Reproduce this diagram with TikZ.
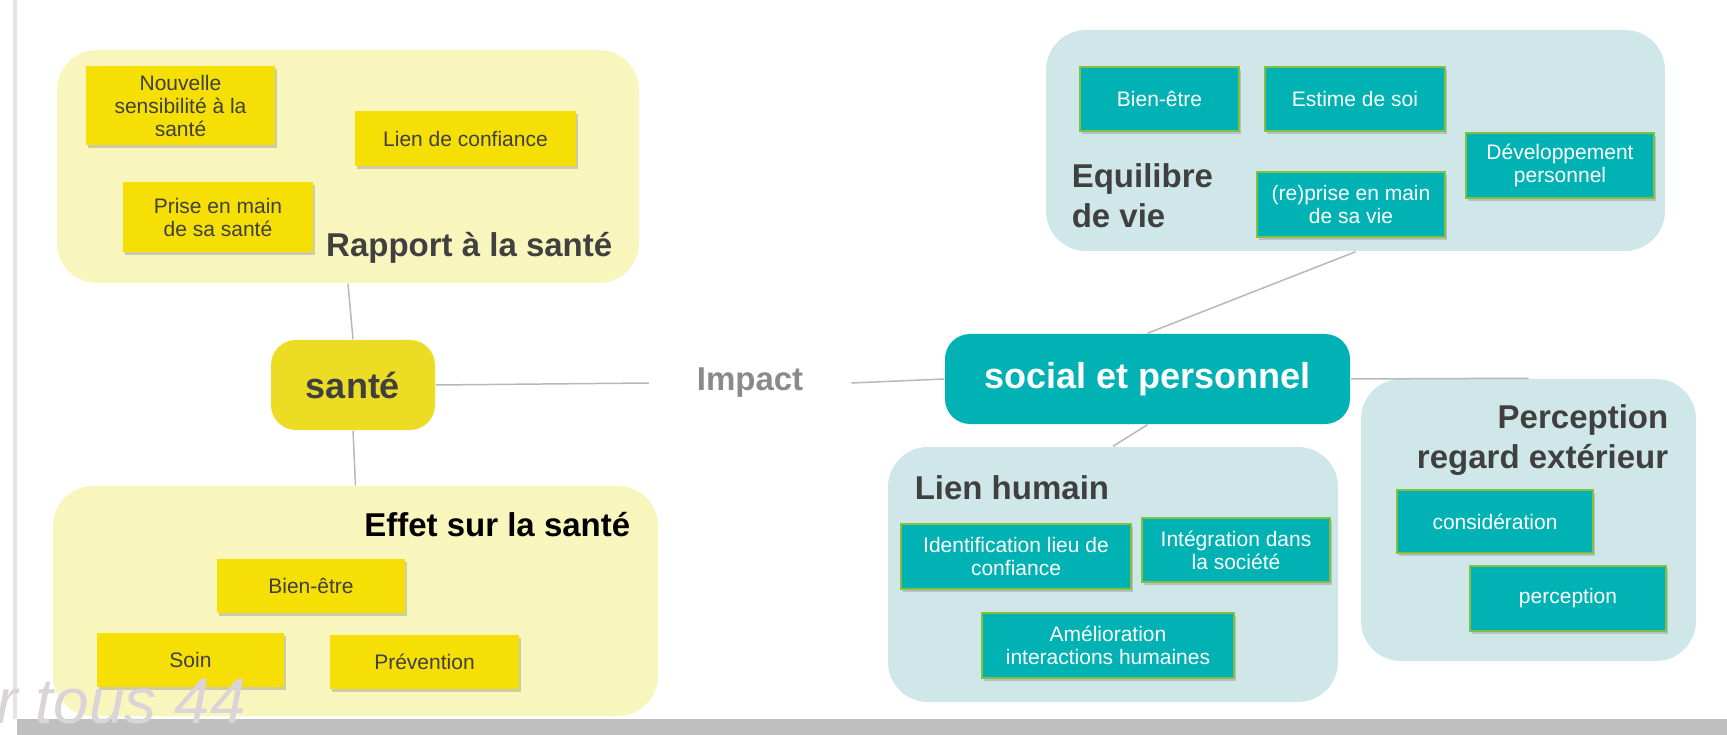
\documentclass[tikz,border=0pt]{standalone}
\usepackage{fontspec}
\setmainfont{Liberation Sans}
\usetikzlibrary{shadows}
\definecolor{panelyellow}{HTML}{F9F6BD}
\definecolor{boxyellow}{HTML}{F5DF05}
\definecolor{centeryellow}{HTML}{ECDC23}
\definecolor{panelteal}{HTML}{CFE7E8}
\definecolor{boxteal}{HTML}{00B2B3}
\definecolor{boxedge}{HTML}{86BE3F}
\definecolor{textgrey}{HTML}{404040}
\definecolor{impactgrey}{HTML}{8A8A8A}
\definecolor{watermark}{HTML}{DAD3D7}
\begin{document}
\begin{tikzpicture}[   % options par defaut
  x=1pt, y=-1pt,       % 1 unite = 1 pixel de l'image
  line width=1.5pt,    % traits de liaison
  draw=black!28,       % gris clair
  font=\fontsize{21}{23}\selectfont
]
  \tikzstyle{panel}=[rounded corners=40, inner sep=0pt];
  \tikzstyle{postit}=[fill=boxyellow, text=textgrey, align=center, inner sep=0pt,
    drop shadow={shadow xshift=2pt, shadow yshift=-3pt, opacity=0.35}];
  \tikzstyle{tealbox}=[fill=boxteal, draw=boxedge, line width=1.2pt, text=white,
    align=center, inner sep=0pt,
    drop shadow={shadow xshift=2pt, shadow yshift=-3pt, opacity=0.35}];
  \tikzstyle{title}=[font=\fontsize{33}{40}\selectfont\bfseries, text=textgrey, inner sep=0pt];
  \tikzstyle{hub}=[rounded corners=25, inner sep=0pt, font=\fontsize{36}{40}\selectfont\bfseries];
  %
  \useasboundingbox (0,0) rectangle (1727,735);
  % bord gauche et bandeau du bas
  \fill[black!10] (13,0) rectangle (17,719);
  \fill[black!25] (17,719) rectangle (1727,735);
  %
  % rapport a la sante
  \node [panel, fill=panelyellow, minimum width=582, minimum height=233] (rapport) at (348,166.5) {};
  \node [postit, minimum width=189, minimum height=79] (nouvelle) at (180.5,105.5) {Nouvelle\\sensibilité à la\\santé};
  \node [postit, minimum width=221, minimum height=55] (confiance) at (465.5,138.5) {Lien de confiance};
  \node [postit, minimum width=190, minimum height=70] (prise) at (218,217) {Prise en main\\de sa santé};
  \node [title, anchor=east] (rapporttitle) at (613,248) {Rapport à la santé};
  %
  % noeud sante
  \node [hub, fill=centeryellow, text=textgrey, minimum width=164, minimum height=90] (sante) at (353,385) {santé};
  %
  % effet sur la sante
  \node [panel, fill=panelyellow, minimum width=605, minimum height=230] (effet) at (355.5,601) {};
  \node [title, text=black, anchor=east] (effettitle) at (631,525) {Effet sur la santé};
  \node [postit, minimum width=188, minimum height=54] (bienetre) at (311,586) {Bien-être};
  \node [postit, minimum width=187, minimum height=54] (soin) at (190.5,660) {Soin};
  \node [postit, minimum width=189, minimum height=54] (prevention) at (424.5,662) {Prévention};
  %
  % impact
  \node [font=\fontsize{33}{40}\selectfont\bfseries, text=impactgrey, minimum width=201, inner sep=0pt] (impact) at (750,383) {Impact};
  %
  % noeud social et personnel
  \node [hub, fill=boxteal, text=white, minimum width=405, minimum height=90] (social) at (1147.5,379) {social et personnel};
  %
  % equilibre de vie
  \node [panel, fill=panelteal, minimum width=619, minimum height=221] (equilibre) at (1355.5,140.5) {};
  \node [tealbox, minimum width=159, minimum height=64] (bienetrevie) at (1159.5,99) {Bien-être};
  \node [tealbox, minimum width=180, minimum height=64] (estime) at (1355,99) {Estime de soi};
  \node [tealbox, minimum width=188, minimum height=65] (developpement) at (1560,165.5) {Développement\\personnel};
  \node [tealbox, minimum width=188, minimum height=65] (reprise) at (1351,204.5) {(re)prise en main\\de sa vie};
  \node [title, align=left, anchor=west] (equilibretitle) at (1071,196) {Equilibre\\de vie};
  %
  % lien humain
  \node [panel, fill=panelteal, minimum width=450, minimum height=255] (lien) at (1113,574.5) {};
  \node [title, anchor=west] (lientitle) at (914,488) {Lien humain};
  \node [tealbox, minimum width=230, minimum height=65] (identification) at (1016,556.5) {Identification lieu de\\confiance};
  \node [tealbox, minimum width=188, minimum height=64] (integration) at (1236,550) {Intégration dans\\la société};
  \node [tealbox, minimum width=252, minimum height=65] (amelioration) at (1108,645.5) {Amélioration\\interactions humaines};
  %
  % perception regard exterieur
  \node [panel, fill=panelteal, minimum width=335, minimum height=282] (perception) at (1528.5,520) {};
  \node [title, align=right, anchor=east] (perceptiontitle) at (1669,440) {Perception\\regard extérieur};
  \node [tealbox, minimum width=196, minimum height=63] (consideration) at (1495,521.5) {considération};
  \node [tealbox, minimum width=196, minimum height=65] (perceptionbox) at (1568,598.5) {perception};
  %
  % liaisons
  \draw (rapport.south) -- (sante.north);
  \draw (sante.south) -- (effet.north);
  \draw (sante.east) -- (impact.west);
  \draw (impact.east) -- (social.west);
  \draw (social.north) -- (equilibre.south);
  \draw (social.south) -- (lien.north);
  \draw (social.east) -- (perception.north);
  %
  % filigrane
  \node [anchor=base west, inner sep=0pt, text=watermark, font=\fontsize{64}{70}\selectfont\itshape] (filigrane) at (-4,723) {r tous 44};
\end{tikzpicture}
\end{document}
